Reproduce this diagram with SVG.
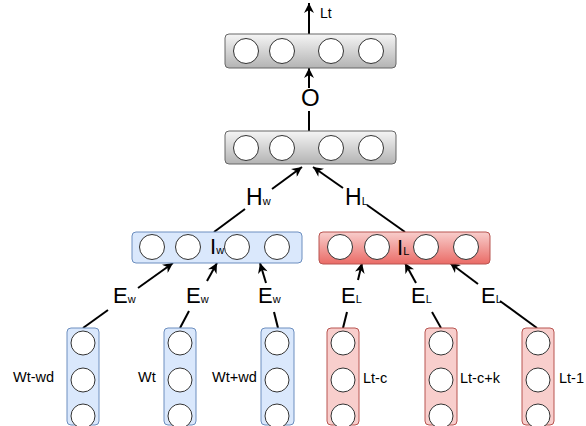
<svg xmlns="http://www.w3.org/2000/svg" width="586" height="426" viewBox="0 0 586 426">
<defs>
<linearGradient id="gGray" x1="0" y1="0" x2="0" y2="1"><stop offset="0" stop-color="#f5f5f5"/><stop offset="1" stop-color="#b3b3b3"/></linearGradient>
<linearGradient id="gRed" x1="0" y1="0" x2="0" y2="1"><stop offset="0" stop-color="#f8cecc"/><stop offset="1" stop-color="#ea6b66"/></linearGradient>
<marker id="arr" viewBox="0 0 10 10" refX="10" refY="5" markerWidth="11" markerHeight="10" markerUnits="userSpaceOnUse" orient="auto"><path d="M0,0 L10,5 L0,10 L3,5 Z" fill="#000"/></marker>
<style>
.gray{fill:url(#gGray);stroke:#666666;stroke-width:1}
.blue{fill:#dae8fc;stroke:#6c8ebf;stroke-width:1}
.redg{fill:url(#gRed);stroke:#b85450;stroke-width:1}
.red{fill:#f8cecc;stroke:#b85450;stroke-width:1}
.c{fill:#ffffff;stroke:#333333;stroke-width:1}
.e{stroke:#000;stroke-width:2;fill:none}
.a{marker-end:url(#arr)}
.big{font-family:"Liberation Sans",Arial,sans-serif;font-size:22px;fill:#000}
.sub{font-size:11px}
.lbl{font-family:"Liberation Sans",Arial,sans-serif;font-size:14.5px;fill:#000}
</style>
</defs>
<g id="connectors">
<line class="e a" x1="309" y1="34" x2="309" y2="3"/>
<line class="e a" x1="309" y1="88" x2="309" y2="68"/>
<line class="e" x1="309" y1="131" x2="309" y2="111"/>
<line class="e" x1="214" y1="232" x2="245" y2="209"/>
<line class="e a" x1="272" y1="189" x2="302" y2="167"/>
<line class="e" x1="405" y1="232" x2="367" y2="205"/>
<line class="e a" x1="343" y1="188" x2="313" y2="167"/>
<line class="e" x1="83" y1="328" x2="108" y2="310"/>
<line class="e a" x1="138" y1="288" x2="173" y2="263"/>
<line class="e" x1="180" y1="328" x2="189" y2="311"/>
<line class="e a" x1="207" y1="281" x2="217" y2="263"/>
<line class="e" x1="278" y1="328" x2="274" y2="312"/>
<line class="e a" x1="266" y1="283" x2="260" y2="263"/>
<line class="e" x1="343" y1="328" x2="347" y2="312"/>
<line class="e a" x1="358" y1="280" x2="362" y2="263"/>
<line class="e" x1="441" y1="328" x2="432" y2="312"/>
<line class="e a" x1="416" y1="283" x2="405" y2="263"/>
<line class="e" x1="537" y1="328" x2="500" y2="301"/>
<line class="e a" x1="478" y1="284" x2="450" y2="263"/>
</g>
<g id="out">
<rect class="gray" x="225" y="34" width="171" height="34" rx="4"/>
<circle class="c" cx="246" cy="51" r="12.5"/><circle class="c" cx="282" cy="51" r="12.5"/><circle class="c" cx="331" cy="51" r="12.5"/><circle class="c" cx="371" cy="51" r="12.5"/>
</g>
<g id="hidden">
<rect class="gray" x="225" y="131" width="171" height="33" rx="4"/>
<circle class="c" cx="246" cy="148" r="12.5"/><circle class="c" cx="282" cy="148" r="12.5"/><circle class="c" cx="331" cy="148" r="12.5"/><circle class="c" cx="371" cy="148" r="12.5"/>
</g>
<g id="iw">
<rect class="blue" x="132" y="232" width="170" height="31" rx="4"/>
<circle class="c" cx="152" cy="247" r="12.5"/><circle class="c" cx="188" cy="247" r="12.5"/><circle class="c" cx="237" cy="247" r="12.5"/><circle class="c" cx="277" cy="247" r="12.5"/>
<text class="big" x="210" y="254">I<tspan class="sub">w</tspan></text>
</g>
<g id="il">
<rect class="redg" x="319" y="232" width="171" height="32" rx="4"/>
<circle class="c" cx="340" cy="247" r="12.5"/><circle class="c" cx="377" cy="247" r="12.5"/><circle class="c" cx="426" cy="247" r="12.5"/><circle class="c" cx="466" cy="247" r="12.5"/>
<text class="big" x="397" y="255">I<tspan class="sub">L</tspan></text>
</g>
<g id="w1"><rect class="blue" x="67" y="328" width="32" height="97" rx="4"/><circle class="c" cx="83" cy="343" r="12"/><circle class="c" cx="83" cy="380" r="12"/><circle class="c" cx="83" cy="416" r="12"/></g>
<g id="w2"><rect class="blue" x="164" y="328" width="32" height="97" rx="4"/><circle class="c" cx="180" cy="343" r="12"/><circle class="c" cx="180" cy="380" r="12"/><circle class="c" cx="180" cy="416" r="12"/></g>
<g id="w3"><rect class="blue" x="261" y="328" width="33" height="97" rx="4"/><circle class="c" cx="277" cy="343" r="12"/><circle class="c" cx="277" cy="380" r="12"/><circle class="c" cx="277" cy="416" r="12"/></g>
<g id="l1"><rect class="red" x="327" y="328" width="32" height="97" rx="4"/><circle class="c" cx="343" cy="343" r="12"/><circle class="c" cx="343" cy="380" r="12"/><circle class="c" cx="343" cy="416" r="12"/></g>
<g id="l2"><rect class="red" x="425" y="328" width="32" height="97" rx="4"/><circle class="c" cx="441" cy="343" r="12"/><circle class="c" cx="441" cy="380" r="12"/><circle class="c" cx="441" cy="416" r="12"/></g>
<g id="l3"><rect class="red" x="522" y="328" width="32" height="97" rx="4"/><circle class="c" cx="538" cy="343" r="12"/><circle class="c" cx="538" cy="380" r="12"/><circle class="c" cx="538" cy="416" r="12"/></g>
<g id="labels">
<text class="lbl" x="320" y="18" style="font-size:14px">Lt</text>
<text class="big" x="301" y="106" style="font-size:24px">O</text>
<text class="big" x="246" y="205" style="font-size:23px">H<tspan class="sub">w</tspan></text>
<text class="big" x="345" y="205" style="font-size:23px">H<tspan class="sub">L</tspan></text>
<text class="big" x="113" y="303">E<tspan class="sub">w</tspan></text>
<text class="big" x="186" y="303">E<tspan class="sub">w</tspan></text>
<text class="big" x="258" y="303">E<tspan class="sub">w</tspan></text>
<text class="big" x="341" y="303">E<tspan class="sub">L</tspan></text>
<text class="big" x="411" y="303">E<tspan class="sub">L</tspan></text>
<text class="big" x="481" y="303">E<tspan class="sub">L</tspan></text>
<text class="lbl" x="13" y="382">Wt-wd</text>
<text class="lbl" x="138" y="382">Wt</text>
<text class="lbl" x="212" y="382">Wt+wd</text>
<text class="lbl" x="363" y="383">Lt-c</text>
<text class="lbl" x="460" y="383">Lt-c+k</text>
<text class="lbl" x="559" y="383">Lt-1</text>
</g>
</svg>
